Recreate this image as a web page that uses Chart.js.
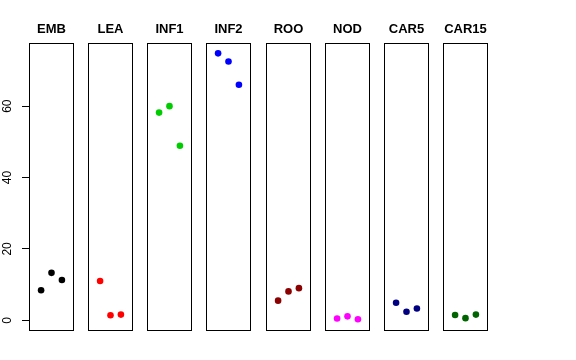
<!doctype html>
<html lang="en">
<head>
  <meta charset="utf-8">
  <title>Strip panels</title>
  <script src="https://cdn.jsdelivr.net/npm/chart.js@4.4.1/dist/chart.umd.min.js"></script>
  <style>
    body { margin: 0; background: #fff; }
    #wrap { position: relative; width: 576px; height: 360px; overflow: hidden; }
    #wrap canvas { position: absolute; top: 0; }
  </style>
  <script>
    // data
    const categories = ['EMB', 'LEA', 'INF1', 'INF2', 'ROO', 'NOD', 'CAR5', 'CAR15'];
    const colors = ['#000000', '#ff0000', '#00cd00', '#0000ff', '#8b0000', '#ff00ff', '#000080', '#006400'];
    const xPositions = [1, 2, 3];
    const embVals = [8.4, 13.3, 11.3];
    const leaVals = [11.0, 1.4, 1.6];
    const inf1Vals = [58.2, 60.0, 48.9];
    const inf2Vals = [74.8, 72.5, 66.0];
    const rooVals = [5.5, 8.1, 9.0];
    const nodVals = [0.5, 1.1, 0.3];
    const car5Vals = [4.9, 2.4, 3.3];
    const car15Vals = [1.5, 0.6, 1.6];
    const series = [embVals, leaVals, inf1Vals, inf2Vals, rooVals, nodVals, car5Vals, car15Vals];
    const yTicks = [0, 20, 40, 60];
  </script>
</head>
<body>
  <div id="wrap"></div>
  <script>
    Chart.defaults.font.family = '"Liberation Sans", Helvetica, Arial, sans-serif';
    Chart.defaults.color = '#000';

    // draws the box round each panel
    const boxPlugin = {
      id: 'box',
      beforeDatasetsDraw(chart) {
        const a = chart.chartArea;
        const ctx = chart.ctx;
        ctx.save();
        ctx.strokeStyle = '#000';
        ctx.lineWidth = 1;
        ctx.strokeRect(Math.round(a.left) + 0.5, Math.round(a.top) + 0.5,
          Math.round(a.right - a.left) - 1, Math.round(a.bottom - a.top) - 1);
        ctx.restore();
      }
    };

    const wrap = document.getElementById('wrap');
    const panelW = 45;
    const axisW = 29;

    for (let i = 0; i < categories.length; i++) {
      const first = i == 0;
      const left = Math.round(29 + i * 59.14);
      const cv = document.createElement('canvas');
      const cw = first ? axisW + panelW + 2 : panelW + 4;
      cv.width = cw;
      cv.height = 360;
      cv.style.left = (first ? 0 : left - 2) + 'px';
      wrap.appendChild(cv);

      new Chart(cv, {
        type: 'scatter',
        data: {
          datasets: [{
            data: xPositions.map((x, j) => ({ x: x, y: series[i][j] })),
            backgroundColor: colors[i],
            borderColor: colors[i],
            borderWidth: 0,
            pointRadius: 3.3
          }]
        },
        options: {
          responsive: false,
          animation: false,
          layout: { autoPadding: false, padding: { left: first ? 0 : 2, right: 2, top: 0, bottom: 29 } },
          plugins: {
            legend: { display: false },
            tooltip: { enabled: false },
            title: {
              display: true,
              text: categories[i],
              fullSize: false,
              font: { size: 13, weight: 'bold', lineHeight: 1 },
              padding: { top: 23, bottom: 7 },
              color: '#000'
            }
          },
          scales: {
            x: { type: 'linear', min: -0.16, max: 4.16, display: false },
            y: {
              type: 'linear',
              min: -3.0,
              max: 77.7,
              display: first,
              position: 'left',
              afterBuildTicks: s => { s.ticks = yTicks.map(v => ({ value: v })); },
              afterFit: s => { if (first) s.width = axisW; },
              grid: { drawOnChartArea: false, tickLength: 7, color: '#000', tickColor: '#000' },
              border: { display: false },
              ticks: {
                minRotation: 90,
                maxRotation: 90,
                crossAlign: 'center',
                padding: 8,
                font: { size: 12 },
                color: '#000'
              }
            }
          }
        },
        plugins: [boxPlugin]
      });
    }
  </script>
</body>
</html>
